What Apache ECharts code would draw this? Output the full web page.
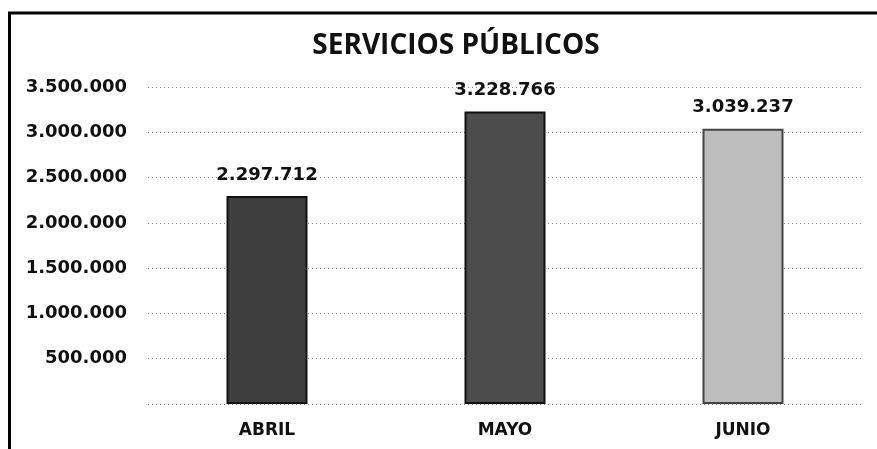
<!DOCTYPE html>
<html>
<head>
<meta charset="utf-8">
<script src="https://cdn.jsdelivr.net/npm/echarts@6/dist/echarts.min.js"></script>
<style>html,body{margin:0;padding:0;background:#fff}#c{width:877px;height:449px}</style>
</head>
<body>
<div id="c"></div>
<script>
const titleText = 'SERVICIOS PÚBLICOS';
const categories = ['ABRIL', 'MAYO', 'JUNIO'];
const values = [2297712, 3228766, 3039237];
const barColors = ['#3e3e3e', '#4c4c4c', '#bdbdbd'];
const barBorders = ['#111111', '#111111', '#444444'];
const yTicks = [0, 500000, 1000000, 1500000, 2000000, 2500000, 3000000, 3500000];

function fmt(v) {
  return String(Math.round(v)).replace(/\B(?=(\d{3})+(?!\d))/g, '.');
}

const chart = echarts.init(document.getElementById('c'), null, {renderer: 'canvas'});
chart.setOption({
  backgroundColor: '#ffffff',
  animation: false,
  title: {
    text: titleText,
    left: 451,
    top: 27,
    textAlign: 'center',
    textStyle: {fontFamily: 'Open Sans', fontWeight: 'bold', fontSize: 28, color: '#111'}
  },
  grid: {left: 148, right: 15, top: 87, bottom: 45, containLabel: false},
  xAxis: {
    type: 'category',
    data: categories,
    axisLine: {show: false},
    axisTick: {show: false},
    axisLabel: {margin: 18, fontFamily: 'DejaVu Sans', fontWeight: 'bold', fontSize: 17, color: '#111'}
  },
  yAxis: {
    type: 'value',
    min: yTicks[0],
    max: yTicks[yTicks.length - 1],
    interval: yTicks[1] - yTicks[0],
    axisLine: {show: false},
    axisTick: {show: false},
    splitLine: {show: true, lineStyle: {color: '#8a8a8a', type: [1, 3], width: 1}},
    axisLabel: {
      margin: 21,
      fontFamily: 'DejaVu Sans', fontWeight: 'bold', fontSize: 18, color: '#111',
      formatter: function (v) { return v === 0 ? '' : fmt(v); }
    }
  },
  series: [{
    type: 'bar',
    barWidth: 81,
    data: values.map(function (v, i) {
      return {value: v, itemStyle: {color: barColors[i], borderColor: barBorders[i], borderWidth: 2}};
    }),
    label: {
      show: true,
      position: 'top',
      distance: 12,
      fontFamily: 'DejaVu Sans', fontWeight: 'bold', fontSize: 18, color: '#111',
      formatter: function (p) { return fmt(p.value); }
    }
  }],
  graphic: [{
    type: 'polyline',
    shape: {points: [[9.5, 449], [9.5, 13], [877, 13]]},
    style: {stroke: '#000', lineWidth: 3, fill: null}
  }]
});
</script>
</body>
</html>
